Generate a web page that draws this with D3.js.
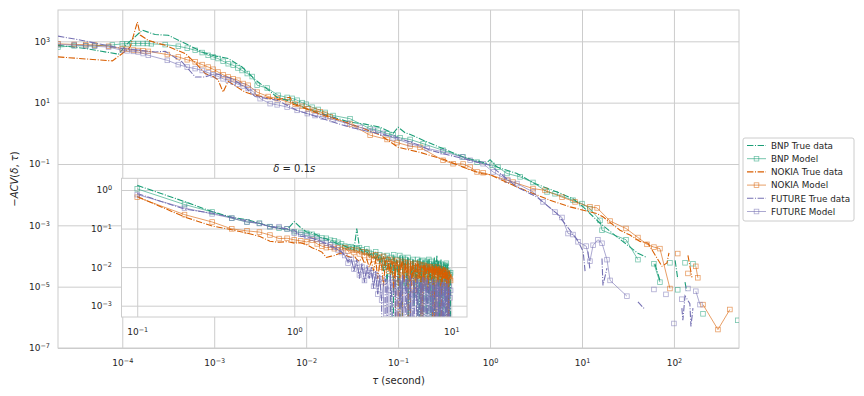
<!DOCTYPE html>
<html><head><meta charset="utf-8">
<script src="https://cdn.jsdelivr.net/npm/d3@7"></script>
<style>body{margin:0;background:#fff}svg{font-family:"DejaVu Sans",sans-serif}</style>
</head><body><svg id="c" width="864" height="396"></svg>
<script>
// ---------------- main panel data (tau in seconds, -ACV) ----------------
const bnpTrueTau = [2.0e-5,4.0e-5,9.1e-5,1.13e-4,1.65e-4,2.28e-4,3.16e-4,4.49e-4,7.4e-4,9.5e-4,1.42e-3,2.01e-3,2.79e-3,3.77e-3,4.84e-3,6.7e-3,1.0e-2,1.42e-2,2.07e-2,3.0e-2,4.38e-2,6.37e-2,8.83e-2,0.1,0.119,0.142,0.207,0.341,0.509,0.905,1.0,1.19,1.96,3.08,5.35,7.98,10.3,15.7,24,33.3,40.6,50.9,55,62.1,70.4,85,103,110,120,132,137,145];
const bnpTrueAcv = [740,580,380,830,2300,1660,1580,950,450,350,275,145,56,28,14.8,11.2,6.3,4.5,3.2,2.3,2.0,1.58,1.0,1.58,1.05,0.87,0.52,0.28,0.17,0.105,0.138,0.079,0.049,0.023,0.0123,0.0074,0.004,1.17e-3,4.2e-4,1.95e-4,1.23e-4,8.9e-5,null,5.6e-5,1.6e-5,null,7.2e-5,1.8e-5,null,1.4e-5,7.6e-6,null];

const bnpModelTau = [2.0e-5,3.0e-5,4.0e-5,5.0e-5,7.8e-5,1.0e-4,1.13e-4,1.32e-4,1.49e-4,1.69e-4,1.87e-4,2.07e-4,2.93e-4,4.07e-4,5.09e-4,6.21e-4,7.4e-4,8.6e-4,9.75e-4,1.1e-3,1.25e-3,1.42e-3,1.61e-3,1.81e-3,2.01e-3,2.29e-3,2.59e-3,2.93e-3,3.77e-3,4.96e-3,6.21e-3,7.05e-3,7.98e-3,9.05e-3,1.0e-2,1.16e-2,1.35e-2,1.61e-2,1.96e-2,3.0e-2,4.96e-2,6.06e-2,7.59e-2,8.83e-2,0.105,0.135,0.187,0.308,0.509,0.723,1.05,1.22,1.53,2.12,2.93,4.17,5.09,7.98,10,12.2,15.7,16.5,30.1,40.6,50,60.6,70.4,80,90.5,100,110,120,132,145,161,180,207,300,496];
const bnpModelAcv = [650,710,710,720,760,830,830,850,850,850,850,830,780,690,600,510,430,350,310,275,224,186,166,135,112,89,71,37,30,17.4,14.8,13.8,12,10,8.9,7.1,6.0,4.8,3.8,3.0,1.41,1.26,0.98,0.89,0.71,0.63,0.46,0.28,0.17,0.115,0.091,0.079,0.049,0.038,0.025,0.0123,0.0107,0.0066,0.0051,0.0035,0.00145,6.9e-4,3.4e-4,7.6e-5,null,5.6e-5,1.4e-5,null,6.0e-5,null,7.9e-6,null,6.0e-5,null,5.6e-5,null,1.3e-6,null,8e-7];

const nokiaTrueTau = [2.0e-5,7.8e-5,1.0e-4,1.22e-4,1.46e-4,1.57e-4,1.92e-4,2.93e-4,4.84e-4,6.21e-4,7.98e-4,9.75e-4,1.1e-3,1.25e-3,1.42e-3,1.78e-3,2.17e-3,2.79e-3,4.84e-3,6.7e-3,7.2e-3,1.0e-2,1.42e-2,2.34e-2,3.86e-2,6.37e-2,0.1,0.173,0.223,0.316,0.509,0.778,1.0,1.96,4.49,7.41,14.6,16.9,25.9,33.3,42.7,52.2,59.2,74.1,83.9,88.3,95,142,157,165];
const nokiaTrueAcv = [310,230,400,650,4300,1600,1070,740,400,200,89,71,56,22,50,32,22,17.4,12.6,15,8.9,6.3,4.2,2.6,1.58,0.89,0.35,0.24,0.19,0.14,0.079,0.049,0.045,0.0178,0.0066,0.004,0.0024,0.0019,6.9e-4,4.8e-4,3.0e-4,2.6e-4,1.4e-4,4.6e-5,5.9e-5,1.26e-4,null,1.05e-4,2.0e-5,null];

const nokiaModelTau = [2.0e-5,3.0e-5,4.0e-5,5.0e-5,7.1e-5,1.0e-4,1.13e-4,1.32e-4,1.49e-4,1.69e-4,1.92e-4,3.09e-4,4.07e-4,5.09e-4,6.21e-4,7.4e-4,8.6e-4,9.75e-4,1.1e-3,1.25e-3,1.42e-3,1.61e-3,1.81e-3,2.07e-3,2.34e-3,2.93e-3,3.86e-3,4.84e-3,6.37e-3,7.59e-3,9.05e-3,1.05e-2,1.22e-2,1.42e-2,1.61e-2,1.82e-2,3.0e-2,4.96e-2,7.59e-2,9.75e-2,0.135,0.173,0.308,0.396,0.509,0.607,0.723,0.84,1.53,1.78,2.93,3.96,6.06,8.4,12.2,14.6,20.2,30.1,40.6,50.9,60.6,70.4,90.5,100,110,125,142,160,173,182,195,207,301,406];
const nokiaModelAcv = [830,790,780,760,690,580,550,520,500,490,470,370,310,250,214,174,145,123,100,81,69,60,54,42,37,22,15.8,13.5,10.5,8.9,7.6,6.3,5.6,5.0,4.2,3.5,2.0,0.87,0.63,0.5,0.38,0.35,0.132,0.102,0.1,0.079,0.055,0.052,0.0295,0.0257,0.0158,0.0138,0.0083,0.0058,0.004,0.0037,0.00138,7.9e-4,4.0e-4,2.4e-4,1.95e-4,1.74e-4,8.7e-6,null,1.2e-4,null,2.7e-5,null,4.6e-5,1.95e-5,null,2.6e-6,4.0e-7,1.8e-6];

const futureTrueTau = [2.0e-5,3.67e-5,1.0e-4,2.28e-4,2.93e-4,4.49e-4,6.21e-4,7.98e-4,1.03e-3,1.57e-3,2.17e-3,2.79e-3,4.84e-3,7.98e-3,1.0e-2,1.82e-2,3.0e-2,4.96e-2,0.1,0.173,0.223,0.472,1.0,1.96,3.24,5.35,7.41,8.83,10.3,10.8,11.2,11.6,12.2,13.0,16.5,16.9,18.7,25,40.6,48.4,60,122,125,132,149,153,161,170];
const futureTrueAcv = [1480,1070,580,450,470,210,69,69,89,60,32,15.8,12,5.6,4.5,2.5,1.58,1.12,0.71,0.4,0.28,0.158,0.091,0.0178,0.0083,0.0024,6.9e-4,3.5e-4,1.4e-4,3.2e-5,null,1.4e-4,3.5e-5,null,8.3e-5,1.1e-5,4.0e-5,null,3.2e-6,1.8e-6,null,2.0e-6,8e-7,5.0e-6,2.8e-6,5e-7,2.0e-6,null];

const futureModelTau = [2.0e-5,3.0e-5,4.0e-5,5.0e-5,7.1e-5,1.0e-4,1.13e-4,1.32e-4,1.49e-4,1.69e-4,1.92e-4,3.09e-4,4.07e-4,5.09e-4,6.21e-4,7.4e-4,8.6e-4,9.75e-4,1.1e-3,1.25e-3,1.42e-3,1.61e-3,1.81e-3,2.07e-3,2.34e-3,2.66e-3,3.16e-3,4.06e-3,4.84e-3,6.21e-3,7.98e-3,1.03e-2,1.25e-2,1.53e-2,1.96e-2,2.79e-2,3.86e-2,5.35e-2,6.87e-2,8.83e-2,0.135,0.207,0.308,0.496,0.607,0.84,1.08,1.35,1.57,1.96,2.93,3.77,5.09,6.06,7.05,7.98,9.05,11.1,12.2,13.2,14.9,16.5,18.7,20.2,30.8,45,60.6,70,81.9,90,100,110,122,130,142,160,173,192];
const futureModelAcv = [790,760,720,690,650,510,490,470,450,400,350,240,174,145,129,112,95,81,72,60,54,47,40,35,29,23,13.5,9.3,8.5,7.2,5.6,4.4,3.8,3.4,2.8,2.1,1.55,1.26,1.0,0.71,0.46,0.32,0.25,0.17,0.132,0.102,0.055,0.038,0.0295,0.023,0.0123,0.0058,0.0027,0.0018,5.4e-4,5.0e-4,2.9e-4,2.1e-4,6.8e-5,2.24e-4,3.4e-4,2.6e-4,7.6e-5,1.6e-5,4.9e-6,null,8.1e-6,null,5.6e-6,null,6.3e-7,null,3.9e-6,null,8.7e-6,null,7.1e-6,2.6e-6];

// ---------------- inset data (delta = 0.1 s) ----------------
const insetTau = [0.1,0.2,0.3,0.4,0.5,0.6,0.7,0.8,0.9,1.0,1.1,1.2,1.3,1.4,1.5,1.6,1.7,1.8,1.9,2.0,2.1,2.2,2.3,2.4,2.5,2.6,2.7,2.8,2.9,3.0,3.1,3.2,3.3,3.4,3.5,3.6,3.7,3.8,3.9,4.0,4.1,4.2,4.3,4.4,4.5,4.6,4.7,4.8,4.9,5.0,5.1,5.2,5.3,5.4,5.5,5.6,5.7,5.8,5.9,6.0,6.1,6.2,6.3,6.4,6.5,6.6,6.7,6.8,6.9,7.0,7.1,7.2,7.3,7.4,7.5,7.6,7.7,7.8,7.9,8.0,8.1,8.2,8.3,8.4,8.5,8.6,8.7,8.8,8.9,9.0,9.1,9.2,9.3,9.4,9.5,9.6,9.7,9.8,9.9];
const insetBnpTrue = [1.32,0.50,0.275,0.195,0.17,0.138,0.115,0.102,0.093,0.151, 0.105,0.081,0.078,0.068,0.057,0.054,0.047,0.044,0.040,0.038, 0.035,0.032,0.030,0.028,0.10,0.033,0.025,0.024,0.026,0.020, 0.022,0.019,0.016,0.021,0.0126,0.0178,0.0079,0.0158,0.004,0.0141, 0.0126,-0.004,0.0178,0.0063,0.0158,0.0025,0.0141,-0.002,0.020,0.010, 0.0126,0.0032,0.0178,-0.003,0.0141,0.005,0.0158,0.001,0.0112,0.004, 0.0126,-0.005,0.0178,0.0025,0.010,-0.001,0.0141,0.0063,0.0089,-0.004, 0.0158,0.002,0.0112,0.005,-0.002,0.0126,0.0032,0.0178,-0.006,0.010, 0.020,0.004,0.0141,-0.003,0.0079,0.0158,0.0016,0.010,-0.002,0.0126, 0.005,0.0112,-0.004,0.0063,0.0126,0.0013,0.0079,-0.001,0.005];
const insetBnpModel = [1.07,0.42,0.27,0.186,0.148,0.138,0.112,0.102,0.098,0.083, 0.079,0.076,0.071,0.063,0.057,0.056,0.050,0.048,0.044,0.040, 0.035,0.033,0.034,0.032,0.030,0.032,0.028,0.025,0.030,0.024, 0.022,0.020,0.025,0.0178,0.021,0.0126,0.019,0.010,0.020,0.0141, 0.0178,0.0063,0.021,0.0126,0.0158,0.004,0.020,0.010,0.0178,0.0032, 0.0158,0.0112,0.0178,-0.002,0.0141,0.005,0.0158,0.0079,0.0126,0.0025, 0.0158,0.010,-0.001,0.0141,0.0063,0.015,0.004,0.0126,0.0089,0.0141, 0.005,0.0158,0.010,-0.003,0.0141,0.0079,0.0112,0.002,0.0126,0.012, 0.0063,0.0126,0.0032,0.0112,-0.002,0.012,0.0089,0.005,0.0112,0.010, 0.004,0.0112,0.0126,0.0025,0.0079,0.0069,-0.001,0.0063,0.0071];
const insetNokiaTrue = [0.68,0.20,0.117,0.093,0.076,0.063,0.047,0.044,0.046,0.042, 0.043,0.038,0.032,0.028,0.0245,0.0178,0.019,0.020,0.022,0.0234, 0.021,0.019,0.0178,0.020,0.0158,0.0141,0.0178,0.0126,0.0158,0.010, 0.0141,0.0079,0.0158,0.005,0.0126,0.0112,0.0032,0.0141,0.0089,0.0126, 0.0063,0.0141,0.0025,0.0126,-0.003,0.0112,0.005,0.0141,0.0079,0.004, 0.0126,0.0063,0.010,-0.002,0.0132,0.0032,0.0112,0.0071,0.0089,0.002, 0.0126,0.005,0.010,0.0079,-0.004,0.0112,0.004,0.0126,0.0063,0.0089, 0.0025,0.012,0.0079,0.010,0.0045,0.0112,-0.001,0.010,0.0056,0.0112, 0.0079,0.004,0.0105,0.0063,0.010,-0.003,0.0089,0.005,0.010,0.0032, 0.010,0.0071,0.004,0.0089,-0.002,0.0063,0.0079,0.005,0.0063];
const insetNokiaModel = [0.65,0.23,0.148,0.098,0.087,0.081,0.068,0.055,0.056,0.051, 0.048,0.045,0.050,0.040,0.035,0.032,0.033,0.030,0.032,0.028, 0.032,0.026,0.028,0.024,0.0275,0.022,0.025,0.020,0.024,0.0178, 0.020,0.0158,0.021,0.0141,0.0178,0.010,0.019,0.0126,0.0158,0.0079, 0.0158,0.0112,0.0141,0.005,0.015,0.010,0.0126,-0.002,0.0141,0.0063, 0.0126,0.0089,0.0132,0.004,0.012,0.0079,0.0112,0.0025,0.0126,0.0071, 0.010,0.012,0.005,0.0112,-0.001,0.0089,0.0112,0.0032,0.010,0.0079, 0.0105,0.0045,0.010,0.0071,0.0089,0.002,0.010,0.0063,0.0089,-0.003, 0.0079,0.010,0.004,0.0079,0.0056,0.0089,0.0025,0.0079,0.0063,0.0071, 0.005,0.0079,0.0032,0.0071,0.0063,-0.002,0.0056,0.005,0.0045];
const insetFutureTrue = [0.81,0.32,0.25,0.195,0.158,0.135,0.112,0.102,0.098,0.091, 0.063,0.060,0.056,0.050,0.045,0.040,0.035,0.032,0.028,0.025, 0.020,0.0141,0.0178,0.0079,0.0158,0.005,0.0126,0.004,0.0112,0.005, 0.010,0.0028,0.0079,0.002,0.0063,0.0013,-0.002,0.005,0.0032,-0.001, 0.0063,0.001,-0.003,0.004,0.0025,-0.001,0.005,0.0008,0.0063,-0.004, 0.0032,0.005,-0.002,0.0016,0.0063,-0.003,0.0025,0.0045,-0.001,0.0032, 0.005,-0.002,0.002,0.004,-0.003,0.0056,0.001,-0.001,0.0032,0.005, -0.002,0.0025,0.004,0.0008,-0.004,0.005,0.002,-0.002,0.0035,0.0013, -0.001,0.0045,0.0025,-0.003,0.0032,0.0016,-0.002,0.004,0.001,-0.001, 0.0032,0.002,-0.002,0.0035,0.0013,-0.003,0.0025,0.0008,-0.001];
const insetFutureModel = [0.76,0.34,0.24,0.186,0.148,0.135,0.112,0.112,0.098,0.076, 0.071,0.063,0.056,0.052,0.047,0.042,0.038,0.033,0.028,0.024, 0.020,0.0126,0.0158,0.0089,0.0126,0.0063,0.010,0.0045,0.0079,0.0063, 0.0071,0.0032,0.0063,0.002,0.005,0.0014,0.004,-0.001,0.005,0.0025, -0.002,0.004,0.002,0.005,-0.001,0.0032,0.0013,0.0045,-0.003,0.0025, 0.005,0.001,0.0032,-0.002,0.004,0.002,-0.001,0.0045,0.0016,0.0032, -0.002,0.0035,0.0025,0.0008,0.004,-0.003,0.0028,0.0045,0.0013,-0.001, 0.0032,0.002,0.004,-0.002,0.0025,0.001,0.0035,-0.004,0.0028,0.0016, 0.004,-0.001,0.002,0.0032,0.0008,-0.002,0.0035,0.0022,-0.003,0.0032, 0.0013,0.004,-0.001,0.0025,0.002,-0.002,0.0032,0.0016,0.0025];

// ---------------- ticks & labels ----------------
const mainXTicks = [1e-4,1e-3,1e-2,1e-1,1,10,100];
const mainYTicks = [1e3,1e1,1e-1,1e-3,1e-5,1e-7];
const insetXTicks = [0.1,1,10];
const insetYTicks = [1,0.1,0.01,0.001];
const seriesNames = ["BNP True data","BNP Model","NOKIA True data","NOKIA Model","FUTURE True data","FUTURE Model"];
const seriesColors = ["#1b9e77","#1b9e77","#d95f02","#d95f02","#7570b3","#7570b3"];

// ---------------- drawing ----------------
const svg = d3.select("#c");
const M = {l:58, r:739, t:10, b:348};
const I = {l:121.5, r:467, t:178.3, b:317};
const xMain = d3.scaleLog().domain([2.0e-5, 510]).range([M.l, M.r]);
const yMain = d3.scaleLog().domain([1e-7, 1.05e4]).range([M.b, M.t]);
const xIn = d3.scaleLog().domain([0.0794, 12.59]).range([I.l, I.r]);
const yIn = d3.scaleLog().domain([5.09e-4, 2.01]).range([I.b, I.t]);
const GRID = "#cccccc", TXT = "#262626";
const DASH = "6.4,1.6,1,1.6";

function supLabels(sel) {
  sel.selectAll(".tick text").each(function(d) {
    const e = Math.round(Math.log10(d));
    const t = d3.select(this);
    t.text(null);
    t.append("tspan").text("10");
    t.append("tspan").attr("dy", "-0.48em").attr("font-size", "0.72em").text(e < 0 ? "\u2212" + (-e) : String(e));
  });
}
function styleAxis(g) {
  g.select(".domain").remove();
  g.selectAll(".tick line").attr("stroke", GRID).attr("stroke-width", 1);
  g.selectAll(".tick text").attr("fill", TXT).attr("font-size", "9px").attr("font-family", "DejaVu Sans");
}
function drawAxes(xs, ys, box, xt, yt, padX, padY) {
  const gx = svg.append("g").attr("transform", `translate(0,${box.b})`)
    .call(d3.axisBottom(xs).tickValues(xt).tickSize(-(box.b - box.t)).tickPadding(padX).tickFormat(d => d));
  const gy = svg.append("g").attr("transform", `translate(${box.l},0)`)
    .call(d3.axisLeft(ys).tickValues(yt).tickSize(-(box.r - box.l)).tickPadding(padY).tickFormat(d => d));
  [gx, gy].forEach(g => { styleAxis(g); supLabels(g); });
}
function drawSpines(box) {
  svg.append("rect").attr("x", box.l).attr("y", box.t).attr("width", box.r - box.l).attr("height", box.b - box.t)
    .attr("fill", "none").attr("stroke", GRID).attr("stroke-width", 1);
}
function clipFor(id, box) {
  svg.append("clipPath").attr("id", id).append("rect")
    .attr("x", box.l).attr("y", box.t).attr("width", box.r - box.l).attr("height", box.b - box.t);
}
// mode "gap": null -> break; mode "clip": non-positive -> line drops below axis
function drawSeries(layer, xs, ys, tau, acv, color, isModel, mode) {
  const pts = tau.map((t, i) => ({t, v: acv[i]}));
  const floorY = ys.range()[0] + 300;
  const line = d3.line()
    .defined(d => mode === "clip" ? d.v !== null : (d.v !== null && d.v > 0))
    .x(d => xs(d.t))
    .y(d => d.v > 0 ? ys(d.v) : floorY);
  const p = layer.append("path").datum(pts).attr("d", line).attr("fill", "none")
    .attr("stroke", color).attr("stroke-width", isModel ? 1 : 1.1);
  if (isModel) {
    p.attr("stroke-opacity", 0.6);
    const s = 4.6;
    layer.append("g").selectAll("rect").data(pts.filter(d => d.v !== null && d.v > 0)).join("rect")
      .attr("x", d => xs(d.t) - s / 2).attr("y", d => ys(d.v) - s / 2)
      .attr("width", s).attr("height", s).attr("fill", "none")
      .attr("stroke", color).attr("stroke-opacity", 0.6).attr("stroke-width", 0.8);
  } else {
    p.attr("stroke-dasharray", DASH);
  }
}

// main panel
drawAxes(xMain, yMain, M, mainXTicks, mainYTicks, 12, 8);
drawSpines(M);
clipFor("clipMain", M);
const gm = svg.append("g").attr("clip-path", "url(#clipMain)");
const mainSets = [[bnpTrueTau,bnpTrueAcv],[bnpModelTau,bnpModelAcv],[nokiaTrueTau,nokiaTrueAcv],[nokiaModelTau,nokiaModelAcv],[futureTrueTau,futureTrueAcv],[futureModelTau,futureModelAcv]];
mainSets.forEach((s, i) => drawSeries(gm, xMain, yMain, s[0], s[1], seriesColors[i], i % 2 === 1, "gap"));

// axis titles
const yl = svg.append("text").attr("transform", "translate(18,179) rotate(-90)").attr("text-anchor", "middle")
  .attr("fill", TXT).attr("font-size", "10px");
yl.append("tspan").text("\u2212");
yl.append("tspan").attr("font-style", "italic").text("ACV");
yl.append("tspan").text("(");
yl.append("tspan").attr("font-style", "italic").text("\u03b4");
yl.append("tspan").text(", ");
yl.append("tspan").attr("font-style", "italic").text("\u03c4");
yl.append("tspan").text(")");
const xl = svg.append("text").attr("x", 398.5).attr("y", 384).attr("text-anchor", "middle")
  .attr("fill", TXT).attr("font-size", "10px");
xl.append("tspan").attr("font-style", "italic").text("\u03c4");
xl.append("tspan").text(" (second)");

// inset panel
svg.append("rect").attr("x", I.l).attr("y", I.t).attr("width", I.r - I.l).attr("height", I.b - I.t).attr("fill", "#fff");
drawAxes(xIn, yIn, I, insetXTicks, insetYTicks, 12, 9.5);
clipFor("clipIn", I);
const gi = svg.append("g").attr("clip-path", "url(#clipIn)");
const insetSets = [insetBnpTrue, insetBnpModel, insetNokiaTrue, insetNokiaModel, insetFutureTrue, insetFutureModel];
insetSets.forEach((v, i) => drawSeries(gi, xIn, yIn, insetTau, v, seriesColors[i], i % 2 === 1, "clip"));
drawSpines(I);
const tt = svg.append("text").attr("x", (I.l + I.r) / 2).attr("y", 172).attr("text-anchor", "middle")
  .attr("fill", TXT).attr("font-size", "10px");
tt.append("tspan").attr("font-style", "italic").text("\u03b4");
tt.append("tspan").text(" = 0.1");
tt.append("tspan").attr("font-style", "italic").text("s");

// legend
const lg = svg.append("g");
lg.append("rect").attr("x", 743).attr("y", 138).attr("width", 111).attr("height", 83).attr("rx", 2)
  .attr("fill", "#fff").attr("stroke", GRID).attr("stroke-width", 1);
seriesNames.forEach((name, i) => {
  const y = 145.5 + i * 13.2;
  const isModel = i % 2 === 1;
  const l = lg.append("line").attr("x1", 747).attr("x2", 766).attr("y1", y).attr("y2", y)
    .attr("stroke", seriesColors[i]).attr("stroke-width", isModel ? 1 : 1.1);
  if (isModel) {
    l.attr("stroke-opacity", 0.6);
    lg.append("rect").attr("x", 756.5 - 2.3).attr("y", y - 2.3).attr("width", 4.6).attr("height", 4.6)
      .attr("fill", "none").attr("stroke", seriesColors[i]).attr("stroke-opacity", 0.6).attr("stroke-width", 0.8);
  } else {
    l.attr("stroke-dasharray", DASH);
  }
  lg.append("text").attr("x", 771).attr("y", y + 3.2).attr("fill", TXT).attr("font-size", "8.8px").text(name);
});
</script>
</body></html>
